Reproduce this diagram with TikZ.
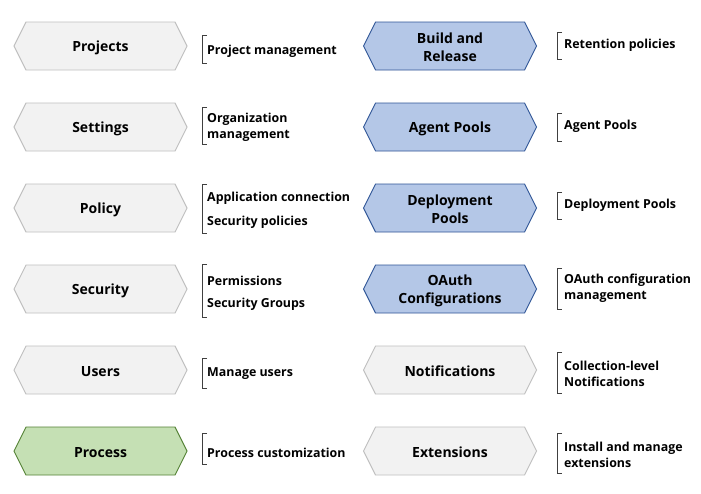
\documentclass[tikz,border=0pt]{standalone}
\usepackage{fontspec}
\setmainfont{Open Sans}
\definecolor{greyfill}{HTML}{F2F2F2}
\definecolor{greyline}{HTML}{BFBFBF}
\definecolor{bluefill}{HTML}{B4C7E7}
\definecolor{blueline}{HTML}{2F5597}
\definecolor{greenfill}{HTML}{C5E0B4}
\definecolor{greenline}{HTML}{548235}
\definecolor{brackline}{HTML}{404040}

% hexagon with a named label node: name, cx, cy, style, text
\newcommand\hexagonbox[5]{%
  \draw[#4] (#2-86.5,#3) -- (#2-74.5,#3-24) -- (#2+74.5,#3-24) -- (#2+86.5,#3)
    -- (#2+74.5,#3+24) -- (#2-74.5,#3+24) -- cycle;
  \node[hexlabel] (#1) at (#2,#3) {#5};}
% open bracket in front of a list: name, x, top, bottom
\newcommand\listbracket[4]{%
  \draw[bracket] (#2+5,#3) -- (#2,#3) -- (#2,#4) -- (#2+5,#4);
  \coordinate (#1) at (#2,{(#3+#4)/2});}

\begin{document}
\begin{tikzpicture}[x=1pt,y=-1pt,
  greyhex/.style={fill=greyfill,draw=greyline,line width=0.9pt,line join=miter},
  bluehex/.style={fill=bluefill,draw=blueline,line width=0.9pt,line join=miter},
  greenhex/.style={fill=greenfill,draw=greenline,line width=0.9pt,line join=miter},
  hexlabel/.style={inner sep=0pt,align=center,yshift=-1.5pt,font=\bfseries\fontsize{14}{18}\selectfont},
  bracket/.style={draw=brackline,line width=1pt},
  item/.style={anchor=west,inner sep=0pt,align=left,yshift=-1.5pt,font=\bfseries\fontsize{12.4}{16}\selectfont}]
\useasboundingbox[fill=white] (0,0) rectangle (701,493);

% left column
\hexagonbox{projects}{100.5}{46}{greyhex}{Projects}
\hexagonbox{settings}{100.5}{127}{greyhex}{Settings}
\hexagonbox{policy}{100.5}{208}{greyhex}{Policy}
\hexagonbox{security}{100.5}{289}{greyhex}{Security}
\hexagonbox{users}{100.5}{370}{greyhex}{Users}
\hexagonbox{process}{100.5}{451}{greenhex}{Process}

\listbracket{bprojects}{202}{35}{63}
\listbracket{bsettings}{202}{107}{144}
\listbracket{bpolicy}{202}{184}{233}
\listbracket{bsecurity}{202}{264}{317}
\listbracket{busers}{202}{358}{388}
\listbracket{bprocess}{202}{433}{464}

\node[item] (tprojects) at (207,50) {Project management};
\node[item] (tsettings) at (207,126) {Organization\\management};
\begin{scope}
  \clip (205,185) rectangle (350,212);
  \node[item] (tappconn) at (207,197) {Application connection};
\end{scope}
\node[item] (tsecpol) at (207,221) {Security policies};
\node[item] (tperm) at (207,279) {Permissions};
\node[item] (tsecgrp) at (207,303) {Security Groups};
\node[item] (tusers) at (207,372) {Manage users};
\node[item] (tprocess) at (207,451) {Process customization};

% right column
\hexagonbox{build}{450}{46}{bluehex}{Build and\\Release}
\hexagonbox{agent}{450}{127}{bluehex}{Agent Pools}
\hexagonbox{deploy}{450}{208}{bluehex}{Deployment\\Pools}
\hexagonbox{oauth}{450}{289}{bluehex}{OAuth\\Configurations}
\hexagonbox{notif}{450}{370}{greyhex}{Notifications}
\hexagonbox{ext}{450}{451}{greyhex}{Extensions}

\listbracket{bbuild}{557}{32}{59}
\listbracket{bagent}{557}{113}{141}
\listbracket{bdeploy}{557}{192}{219}
\listbracket{boauth}{557}{268}{309}
\listbracket{bnotif}{557}{352}{393}
\listbracket{bext}{557}{433}{473}

\node[item] (tbuild) at (564,44) {Retention policies};
\node[item] (tagent) at (564,125) {Agent Pools};
\node[item] (tdeploy) at (564,204) {Deployment Pools};
\node[item] (toauth) at (564,287) {OAuth configuration\\management};
\node[item] (tnotif) at (564,372) {Collection-level\\Notifications};
\node[item] (text) at (564,453) {Install and manage\\extensions};
\end{tikzpicture}
\end{document}
